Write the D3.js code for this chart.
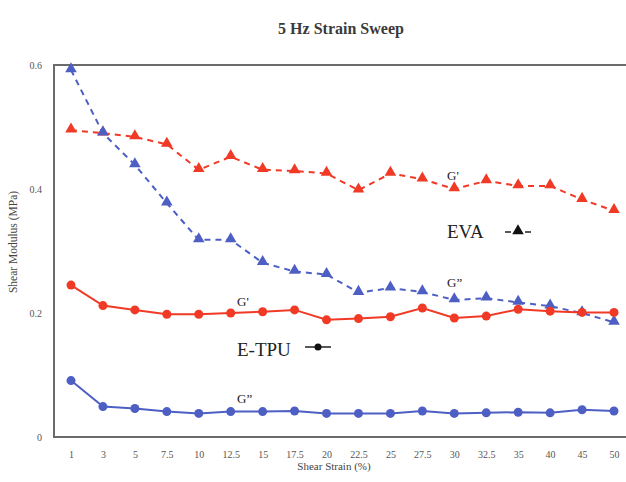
<!DOCTYPE html>
<html><head><meta charset="utf-8">
<script src="https://cdn.jsdelivr.net/npm/d3@7"></script>
<style>body{margin:0;background:#fff}svg{display:block}</style>
</head><body>
<svg id="c" width="626" height="482"></svg>
<script>
const strain = ["1","3","5","7.5","10","12.5","15","17.5","20","22.5","25","27.5","30","32.5","35","40","45","50"];
const evaGp  = [0.495,0.490,0.484,0.472,0.431,0.452,0.431,0.429,0.425,0.398,0.425,0.416,0.400,0.413,0.405,0.405,0.383,0.365];
const evaGpp = [0.592,0.490,0.439,0.377,0.318,0.318,0.281,0.267,0.262,0.233,0.240,0.234,0.221,0.224,0.217,0.211,0.200,0.185];
const tpuGp  = [0.245,0.212,0.205,0.198,0.198,0.200,0.202,0.205,0.189,0.191,0.194,0.208,0.192,0.195,0.206,0.203,0.201,0.201];
const tpuGpp = [0.091,0.049,0.046,0.041,0.038,0.041,0.041,0.042,0.038,0.038,0.038,0.042,0.038,0.039,0.040,0.039,0.044,0.042];
const yTicks = [0,0.2,0.4,0.6];
const yTickLabels = ["0","0.2","0.4","0.6"];

const svg = d3.select("#c");
const serif = "'Liberation Serif','DejaVu Serif',serif";
const x = d3.scalePoint().domain(strain).range([71,614]);
const y = d3.scaleLinear().domain([0,0.6]).range([437,65]);
const RED = "#f03a26", BLUE = "#4e5fc4";

// frame
svg.append("rect").attr("x",54).attr("y",65).attr("width",640).attr("height",372)
  .attr("fill","none").attr("stroke","#6b6b6b").attr("stroke-width",2);

// y axis tick labels
const ya = svg.append("g").attr("transform","translate(45,0)")
  .call(d3.axisLeft(y).tickValues(yTicks).tickSize(0).tickFormat((d,i)=>yTickLabels[i]));
ya.select(".domain").remove();
ya.selectAll("text").attr("font-family",serif).attr("font-size",10).attr("fill","#555");

// x axis tick labels
const xa = svg.append("g").attr("transform","translate(0,448)")
  .call(d3.axisBottom(x).tickSize(0));
xa.select(".domain").remove();
xa.selectAll("text").attr("font-family",serif).attr("font-size",10).attr("fill","#555");

// title and axis titles
svg.append("text").attr("x",341).attr("y",34).attr("text-anchor","middle")
  .attr("font-family",serif).attr("font-size",16).attr("font-weight","bold").attr("fill","#3a3a3a").text("5 Hz Strain Sweep");
svg.append("text").attr("x",334).attr("y",470).attr("text-anchor","middle")
  .attr("font-family",serif).attr("font-size",11).attr("fill","#444").text("Shear Strain (%)");
svg.append("text").attr("transform","translate(17,242) rotate(-90)").attr("text-anchor","middle")
  .attr("font-family",serif).attr("font-size",11.5).attr("fill","#444").text("Shear Modulus (MPa)");

const line = d3.line().x((d,i)=>x(strain[i])).y(d=>y(d));
const tri = d3.symbol().type(d3.symbolTriangle).size(58);

function series(vals, color, dashed, marker){
  const g = svg.append("g");
  g.append("path").datum(vals).attr("d",line).attr("fill","none").attr("stroke",color)
    .attr("stroke-width",2).attr("stroke-dasharray",dashed?"6,5":null);
  if(marker==="tri"){
    g.selectAll("path.m").data(vals).join("path").attr("class","m").attr("d",tri)
      .attr("transform",(d,i)=>`translate(${x(strain[i])},${y(d)-1})`).attr("fill",color);
  } else {
    g.selectAll("circle").data(vals).join("circle").attr("cx",(d,i)=>x(strain[i])).attr("cy",d=>y(d))
      .attr("r",4.5).attr("fill",color);
  }
}
series(evaGp, RED, true, "tri");
series(evaGpp, BLUE, true, "tri");
series(tpuGp, RED, false, "circ");
series(tpuGpp, BLUE, false, "circ");

// annotations
function lab(xp,yp,t,fs){ svg.append("text").attr("x",xp).attr("y",yp).attr("font-family",serif)
  .attr("font-size",fs).attr("fill","#222").text(t); }
lab(447,180,"G'",13);
lab(447,287,"G\u201D",13);
lab(237,306,"G'",13);
lab(237,403,"G\u201D",13);
lab(447,238,"EVA",19);
lab(237,356,"E-TPU",19);
// legend glyphs
svg.append("path").attr("d",`M505,232H511 M525,232H531`).attr("stroke","#222").attr("stroke-width",1.5);
svg.append("path").attr("d",tri).attr("transform","translate(518,231)").attr("fill","#111");
svg.append("path").attr("d",`M305,347H331`).attr("stroke","#222").attr("stroke-width",1.5);
svg.append("circle").attr("cx",318).attr("cy",347).attr("r",3.5).attr("fill","#111");
</script>
</body></html>
